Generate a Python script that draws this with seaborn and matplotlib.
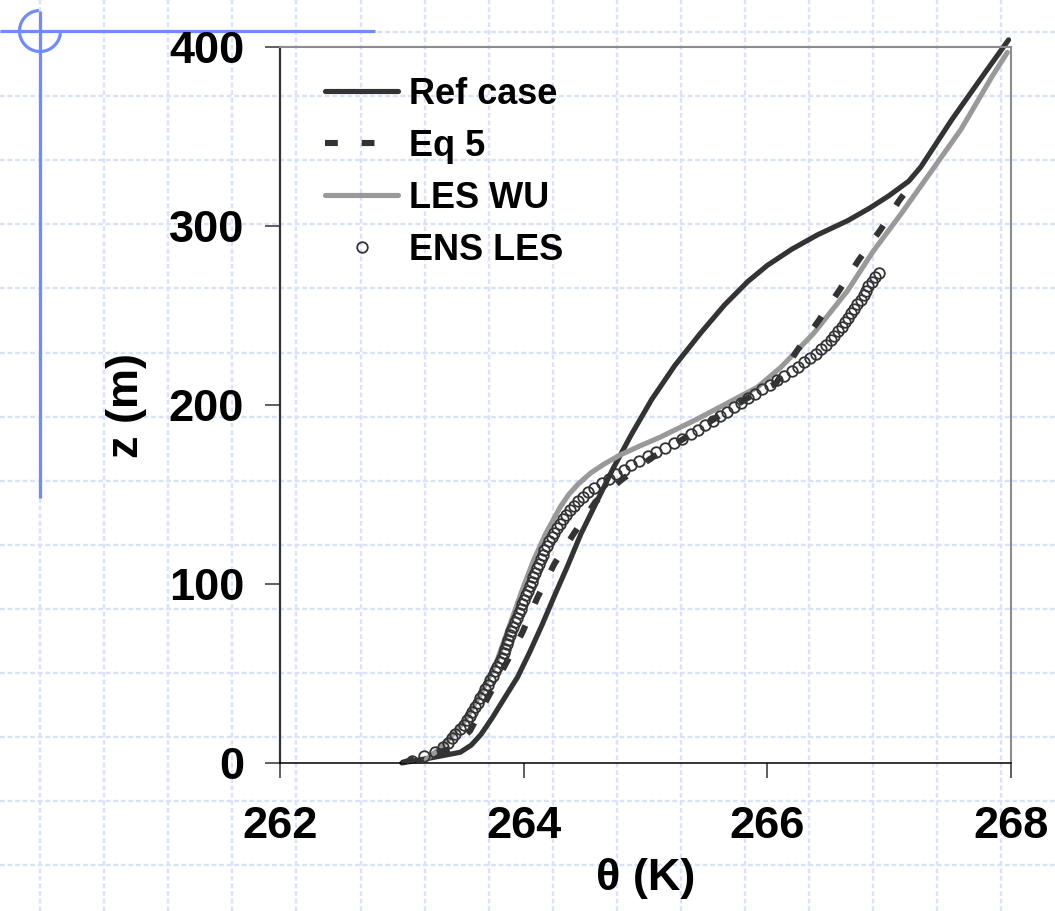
import numpy as np
import matplotlib
matplotlib.use("Agg")
import matplotlib.pyplot as plt
from matplotlib.patches import Arc
import seaborn as sns

# ---- potential temperature profiles (theta in K, height z in m) ----
ref_theta = [263.00, 263.25, 263.48, 263.57, 263.65, 263.74, 263.84, 263.95, 264.05,
             264.15, 264.25, 264.36, 264.47, 264.60, 264.73, 264.88, 265.05, 265.24,
             265.45, 265.65, 265.84, 266.00, 266.20, 266.41, 266.66, 266.84, 267.00,
             267.16, 267.26, 267.51, 267.78, 267.98]
ref_z = [0, 3, 6, 10, 16, 25, 36, 48, 62,
         77, 93, 110, 128, 146, 164, 183, 203, 222,
         240, 256, 269, 278, 287, 295, 303, 310, 317,
         325, 333, 359, 385, 404]

eq5_theta = [263.00, 263.20, 263.40, 263.56, 263.71, 263.85, 263.99, 264.11, 264.25,
             264.41, 264.59, 264.80, 265.04, 265.31, 265.56, 265.84, 266.07, 266.25,
             266.42, 266.59, 266.75, 266.93, 267.08, 267.20]
eq5_z = [0, 4, 8, 18, 37, 55, 73, 92, 111,
         128, 146, 158, 170, 181, 192, 204, 212, 231,
         247, 264, 281, 298, 314, 325]

wu_theta = [263.20, 263.31, 263.38, 263.52, 263.65, 263.78, 263.88, 263.99, 264.08,
            264.18, 264.30, 264.37, 264.45, 264.55, 264.66, 264.79, 264.95, 265.12,
            265.42, 265.67, 265.92, 266.11, 266.38, 266.66, 266.87, 267.10, 267.34,
            267.59, 267.84, 267.97]
wu_z = [2, 8, 13, 24, 39, 57, 76, 97, 113,
        128, 143, 150, 156, 162, 167, 172, 177, 182,
        192, 201, 210, 221, 240, 264, 286, 307, 330,
        354, 383, 397]

ens_z = [1.25, 3.75, 6.25, 8.75, 11.25, 13.75, 16.25, 18.75, 21.25, 23.75,
         26.25, 28.75, 31.25, 33.75, 36.25, 38.75, 41.25, 43.75, 46.25, 48.75,
         51.25, 53.75, 56.25, 58.75, 61.25, 63.75, 66.25, 68.75, 71.25, 73.75,
         76.25, 78.75, 81.25, 83.75, 86.25, 88.75, 91.25, 93.75, 96.25, 98.75,
         101.25, 103.75, 106.25, 108.75, 111.25, 113.75, 116.25, 118.75, 121.25, 123.75,
         126.25, 128.75, 131.25, 133.75, 136.25, 138.75, 141.25, 143.75, 146.25, 148.75,
         151.25, 153.75, 156.25, 158.75, 161.25, 163.75, 166.25, 168.75, 171.25, 173.75,
         176.25, 178.75, 181.25, 183.75, 186.25, 188.75, 191.25, 193.75, 196.25, 198.75,
         201.25, 203.75, 206.25, 208.75, 211.25, 213.75, 216.25, 218.75, 221.25, 223.75,
         226.25, 228.75, 231.25, 233.75, 236.25, 238.75, 241.25, 243.75, 246.25, 248.75,
         251.25, 253.75, 256.25, 258.75, 261.25, 263.75, 266.25, 268.75, 271.25, 273.75]
ens_theta = [263.080, 263.180, 263.270, 263.340, 263.380, 263.410, 263.440, 263.475, 263.510, 263.535,
             263.560, 263.580, 263.600, 263.625, 263.645, 263.665, 263.685, 263.705, 263.725, 263.745,
             263.765, 263.785, 263.805, 263.820, 263.835, 263.850, 263.860, 263.875, 263.890, 263.900,
             263.915, 263.930, 263.945, 263.960, 263.975, 263.990, 264.005, 264.020, 264.035, 264.050,
             264.065, 264.080, 264.095, 264.110, 264.125, 264.140, 264.155, 264.170, 264.190, 264.210,
             264.230, 264.250, 264.270, 264.295, 264.320, 264.350, 264.380, 264.415, 264.450, 264.490,
             264.530, 264.580, 264.640, 264.700, 264.760, 264.820, 264.885, 264.950, 265.020, 265.090,
             265.160, 265.230, 265.300, 265.370, 265.430, 265.490, 265.550, 265.610, 265.670, 265.725,
             265.780, 265.840, 265.900, 265.960, 266.020, 266.080, 266.140, 266.200, 266.255, 266.300,
             266.350, 266.400, 266.440, 266.480, 266.520, 266.550, 266.580, 266.610, 266.635, 266.660,
             266.690, 266.715, 266.740, 266.765, 266.790, 266.810, 266.830, 266.855, 266.885, 266.920]

x_ticks = [262, 264, 266, 268]
y_ticks = [0, 100, 200, 300, 400]

sns.set_theme(style="ticks")
plt.rcParams["font.family"] = ["Liberation Sans", "DejaVu Sans"]
plt.rcParams["font.weight"] = "bold"
plt.rcParams["text.color"] = "black"

W, H = 1055, 911
fig = plt.figure(figsize=(W / 100, H / 100), dpi=100)
fig.patch.set_facecolor("white")

# ---- slide background: dashed grid and blue ornament, in pixel units ----
bg = fig.add_axes([0, 0, 1, 1], zorder=0)
bg.set_xlim(0, W)
bg.set_ylim(H, 0)
bg.axis("off")
grid_color = "#dae2fa"
for gx in np.arange(40, W, 64.1):
    bg.axvline(gx, color=grid_color, lw=1.7, ls=(0, (2.0, 1.2)))
for gy in np.arange(32, H, 64.1):
    bg.axhline(gy, color=grid_color, lw=1.7, ls=(0, (2.0, 1.2)))
deco = "#6e8bff"
bg.plot([0, 375], [31, 31], color=deco, lw=2.3, solid_capstyle="butt")
bg.plot([40, 40], [11, 498], color=deco, lw=2.3, solid_capstyle="butt")
bg.add_patch(Arc((40, 31), 41, 41, theta1=0, theta2=270, color=deco, lw=2.3))

# ---- profile axes ----
ax = fig.add_axes([280 / W, 1 - 763 / H, 731 / W, 716 / H], zorder=1)
ax.patch.set_alpha(0)

dark = "#333333"
sns.lineplot(x=ref_theta, y=ref_z, sort=False, estimator=None, ax=ax,
             color=dark, lw=3.7, solid_capstyle="round", solid_joinstyle="round",
             label="Ref case", zorder=2)
ax.lines[-1].set_clip_on(False)
sns.lineplot(x=wu_theta, y=wu_z, sort=False, estimator=None, ax=ax,
             color="#999999", lw=3.7, solid_capstyle="round", solid_joinstyle="round",
             label="LES WU", zorder=3)
sns.lineplot(x=eq5_theta, y=eq5_z, sort=False, estimator=None, ax=ax,
             color=dark, lw=4.4, linestyle=(0, (2.1, 3.9)), label="Eq 5", zorder=4)
sns.lineplot(x=ens_theta, y=ens_z, sort=False, estimator=None, ax=ax,
             color=dark, linestyle="", marker="o", markersize=7.6,
             markerfacecolor="none", markeredgecolor=dark, markeredgewidth=1.3,
             label="ENS LES", zorder=5)

ax.set_xlim(262, 268)
ax.set_ylim(0, 400)
ax.set_xticks(x_ticks)
ax.set_yticks(y_ticks)
ax.set_xticklabels([str(t) for t in x_ticks], fontsize=32.5, fontweight="bold")
ax.set_yticklabels([str(t) for t in y_ticks], fontsize=32.5, fontweight="bold")
ax.tick_params(axis="both", direction="out", length=10.8, width=1.1, color=dark,
               labelcolor="black")
ax.tick_params(axis="x", pad=20)
ax.tick_params(axis="y", pad=15)

for side in ("top", "right"):
    ax.spines[side].set_visible(True)
    ax.spines[side].set_color("#8c8c8c")
    ax.spines[side].set_linewidth(1.5)
ax.spines["left"].set_color(dark)
ax.spines["left"].set_linewidth(1.6)
ax.spines["bottom"].set_color("black")
ax.spines["bottom"].set_linewidth(1.1)

ax.set_ylabel("z (m)", fontsize=32.5, fontweight="bold", color="black")
ax.set_xlabel("θ (K)", fontsize=32.5, fontweight="bold", color="black")
ax.yaxis.set_label_coords(-0.182, 0.5)
ax.xaxis.set_label_coords(0.5, -0.132)

order = ["Ref case", "Eq 5", "LES WU", "ENS LES"]
handles, labels = ax.get_legend_handles_labels()
lookup = dict(zip(labels, handles))
leg = ax.legend([lookup[k] for k in order], order, loc="upper left",
                bbox_to_anchor=(0.0622, 0.958), frameon=False,
                prop={"size": 26, "weight": "bold"}, handlelength=2.0,
                handletextpad=0.32, labelspacing=0.47, borderpad=0, borderaxespad=0,
                numpoints=1)
for txt in leg.get_texts():
    txt.set_color("black")

fig.savefig("out.png", dpi=100)
